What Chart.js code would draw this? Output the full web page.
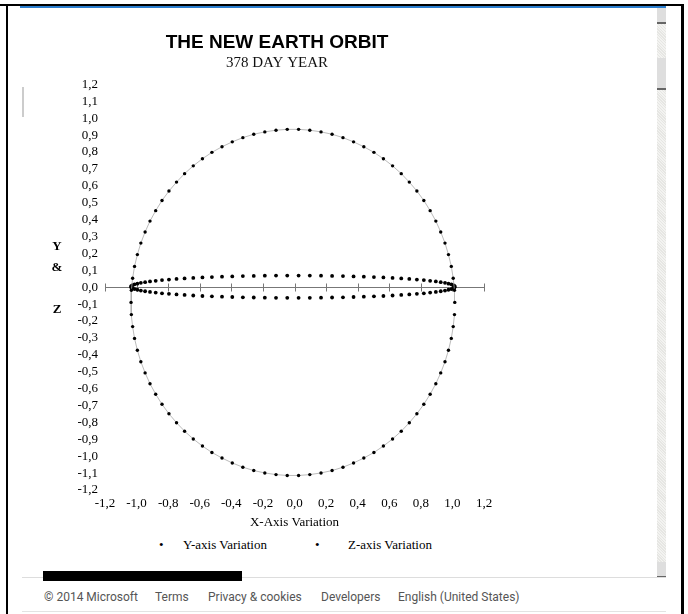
<!DOCTYPE html>
<html lang="en">
<head>
<meta charset="UTF-8">
<title>The New Earth Orbit</title>
<script src="https://cdn.jsdelivr.net/npm/chart.js"></script>
<style>
    body {
        margin: 0;
        background: #fff;
        width: 688px;
        height: 614px;
        overflow: hidden;
        position: relative;
        font-family: "Liberation Serif", "Times New Roman", serif;
    }
    .abs { position: absolute; }
    #chartBox { left: 22px; top: 8px; }
    .key { top: 537px; font-size: 13px; color: #000; white-space: nowrap; }
    .dot { font-size: 13px; }
    .foot {
        top: 590px;
        font-family: Roboto, "Liberation Sans", sans-serif;
        font-size: 12px;
        color: #555;
        white-space: nowrap;
    }
    .scroll {
        left: 657px; width: 9px;
        background: repeating-linear-gradient(45deg, #e6e6e3 0 1px, #f3f3f1 1px 2px);
    }
    .sbtn { left: 657px; width: 9px; background: #dedede; border-bottom: 2px solid #666; }
</style>
</head>
<body>
    <!-- window frame -->
    <div class="abs" style="left:0;top:4px;width:684px;height:2px;background:#000"></div>
    <div class="abs" style="left:6px;top:4px;width:2px;height:610px;background:#000"></div>
    <div class="abs" style="left:681px;top:4px;width:3px;height:610px;background:#000"></div>
    <div class="abs" style="left:20px;top:6px;width:646px;height:2px;background:#2b7fd0"></div>
    <div class="abs" style="left:22px;top:87px;width:2px;height:30px;background:#ccc"></div>
    <div class="abs scroll" style="top:8px;height:570px"></div>
    <div class="abs sbtn" style="top:8px;height:14px"></div>
    <div class="abs sbtn" style="top:58px;height:30px"></div>
    <div class="abs sbtn" style="top:562px;height:14px"></div>

    <div id="chartBox" class="abs">
        <canvas id="orbitChart" width="510" height="522"></canvas>
    </div>

    <div class="abs key dot" style="left:159px">&#8226;</div>
    <div class="abs key" style="left:183px">Y-axis Variation</div>
    <div class="abs key dot" style="left:315px">&#8226;</div>
    <div class="abs key" style="left:348px">Z-axis Variation</div>

    <div class="abs" style="left:22px;top:577px;width:644px;height:1px;background:#ddd"></div>
    <div class="abs" style="left:43px;top:571px;width:199px;height:10px;background:#000"></div>
    <div class="abs foot" style="left:44px">&copy; 2014 Microsoft</div>
    <div class="abs foot" style="left:155px">Terms</div>
    <div class="abs foot" style="left:208px">Privacy &amp; cookies</div>
    <div class="abs foot" style="left:321px">Developers</div>
    <div class="abs foot" style="left:398px">English (United States)</div>
    <div class="abs" style="left:22px;top:611px;width:644px;height:1px;background:#e3e3e3"></div>

<script>
    // X position of the earth for each plotted day (shared by both series)
    const xVals = [
        1.015, 1.013, 1.005, 0.993, 0.975, 0.953, 0.926, 0.895, 0.859, 0.819, 0.775, 0.727, 0.676, 0.621, 0.563, 0.503, 0.439, 0.374, 0.307, 0.238, 0.168, 0.097, 0.026,
        -0.046, -0.117, -0.188, -0.258, -0.327, -0.394, -0.459, -0.523, -0.583, -0.641, -0.696, -0.747, -0.795, -0.839, -0.879, -0.915, -0.946, -0.973, -0.995, -1.013, -1.025, -1.033,
        -1.035, -1.033, -1.025, -1.013, -0.995, -0.973, -0.946, -0.915, -0.879, -0.839, -0.795, -0.747, -0.696, -0.641, -0.583, -0.523, -0.459, -0.394, -0.327, -0.258, -0.188, -0.117, -0.046,
        0.026, 0.097, 0.168, 0.238, 0.307, 0.374, 0.439, 0.503, 0.563, 0.621, 0.676, 0.727, 0.775, 0.819, 0.859, 0.895, 0.926, 0.953, 0.975, 0.993, 1.005, 1.013
    ];
    // Y-axis variation
    const yVals = [
        -0.090, -0.018, 0.053, 0.123, 0.193, 0.261, 0.327, 0.391, 0.453, 0.513, 0.569, 0.622, 0.672, 0.718, 0.760, 0.798, 0.831, 0.860, 0.885, 0.905, 0.919, 0.929, 0.934,
        0.934, 0.929, 0.919, 0.905, 0.885, 0.860, 0.831, 0.798, 0.760, 0.718, 0.672, 0.622, 0.569, 0.513, 0.453, 0.391, 0.327, 0.261, 0.193, 0.123, 0.053, -0.018,
        -0.090, -0.162, -0.233, -0.303, -0.373, -0.441, -0.507, -0.571, -0.633, -0.693, -0.749, -0.802, -0.852, -0.898, -0.940, -0.978, -1.011, -1.040, -1.065, -1.085, -1.099, -1.109, -1.114,
        -1.114, -1.109, -1.099, -1.085, -1.065, -1.040, -1.011, -0.978, -0.940, -0.898, -0.852, -0.802, -0.749, -0.693, -0.633, -0.571, -0.507, -0.441, -0.373, -0.303, -0.233, -0.162
    ];
    // Z-axis variation
    const zVals = [
        0.003, 0.008, 0.012, 0.017, 0.021, 0.026, 0.030, 0.034, 0.038, 0.042, 0.045, 0.049, 0.052, 0.055, 0.058, 0.060, 0.062, 0.064, 0.066, 0.067, 0.068, 0.069, 0.069,
        0.069, 0.069, 0.068, 0.067, 0.066, 0.064, 0.062, 0.060, 0.058, 0.055, 0.052, 0.049, 0.045, 0.042, 0.038, 0.034, 0.030, 0.026, 0.021, 0.017, 0.012, 0.008,
        0.003, -0.002, -0.006, -0.011, -0.015, -0.020, -0.024, -0.028, -0.032, -0.036, -0.039, -0.043, -0.046, -0.049, -0.052, -0.054, -0.056, -0.058, -0.060, -0.061, -0.062, -0.063, -0.063,
        -0.063, -0.063, -0.062, -0.061, -0.060, -0.058, -0.056, -0.054, -0.052, -0.049, -0.046, -0.043, -0.039, -0.036, -0.032, -0.028, -0.024, -0.020, -0.015, -0.011, -0.006, -0.002
    ];
    const xTicks = [-1.2, -1.0, -0.8, -0.6, -0.4, -0.2, 0.0, 0.2, 0.4, 0.6, 0.8, 1.0, 1.2];
    const yTicks = [1.2, 1.1, 1.0, 0.9, 0.8, 0.7, 0.6, 0.5, 0.4, 0.3, 0.2, 0.1, 0.0,
        -0.1, -0.2, -0.3, -0.4, -0.5, -0.6, -0.7, -0.8, -0.9, -1.0, -1.1, -1.2];

    const SERIF = '"Liberation Serif", "Times New Roman", serif';
    const commaFmt = v => Number(v).toFixed(1).replace('.', ',');

    // horizontal axis through 0 with tick marks, drawn under the points
    const zeroAxis = {
        id: 'zeroAxis',
        beforeDatasetsDraw(chart) {
            const {ctx, scales: {x, y}} = chart;
            const y0 = Math.round(y.getPixelForValue(0)) + 0.5;
            ctx.save();
            ctx.strokeStyle = '#777';
            ctx.lineWidth = 1;
            ctx.beginPath();
            ctx.moveTo(x.getPixelForValue(xTicks[0]), y0);
            ctx.lineTo(x.getPixelForValue(xTicks[xTicks.length - 1]), y0);
            xTicks.forEach(t => {
                const px = Math.round(x.getPixelForValue(t)) + 0.5;
                ctx.moveTo(px, y0 - 4);
                ctx.lineTo(px, y0 + 4);
            });
            ctx.stroke();
            ctx.restore();
        }
    };

    // stacked "Y & Z" axis caption
    const sideCaption = {
        id: 'sideCaption',
        afterDraw(chart) {
            const {ctx, scales: {y}} = chart;
            const y0 = y.getPixelForValue(0);
            ctx.save();
            ctx.font = 'bold 13px ' + SERIF;
            ctx.fillStyle = '#000';
            ctx.textAlign = 'center';
            ctx.textBaseline = 'middle';
            ctx.fillText('Y', 35, y0 - 41);
            ctx.fillText('&', 35, y0 - 20);
            ctx.fillText('Z', 35, y0 + 22);
            ctx.restore();
        }
    };

    new Chart(document.getElementById('orbitChart'), {
        type: 'scatter',
        data: {
            datasets: [
                {
                    label: 'Y-axis Variation',
                    data: xVals.map((x, i) => ({x: x, y: yVals[i]})),
                    showLine: true,
                    borderColor: '#aaa',
                    borderWidth: 0.8,
                    pointRadius: 1.7,
                    pointBorderWidth: 0,
                    pointBackgroundColor: '#000'
                },
                {
                    label: 'Z-axis Variation',
                    data: xVals.map((x, i) => ({x: x, y: zVals[i]})),
                    showLine: false,
                    pointRadius: 1.9,
                    pointBorderWidth: 0,
                    pointBackgroundColor: '#000'
                }
            ]
        },
        options: {
            responsive: false,
            animation: false,
            events: [],
            plugins: {
                legend: { display: false },
                tooltip: { enabled: false },
                title: {
                    display: true,
                    text: 'THE NEW EARTH ORBIT',
                    color: '#000',
                    font: { family: '"Liberation Sans", Arial, sans-serif', size: 19, weight: 'bold' },
                    padding: { top: 23, bottom: 0 }
                },
                subtitle: {
                    display: true,
                    text: '378 DAY YEAR',
                    color: '#111',
                    font: { family: SERIF, size: 15 },
                    padding: { top: 0, bottom: 12.6 }
                }
            },
            scales: {
                x: {
                    type: 'linear',
                    min: -1.2,
                    max: 1.2,
                    grid: { display: false, drawTicks: false },
                    border: { display: false },
                    afterBuildTicks: s => { s.ticks = xTicks.map(v => ({value: v})); },
                    afterFit: s => { s.height = 40; s.paddingRight = 48; },
                    ticks: {
                        color: '#000',
                        padding: 6,
                        maxRotation: 0,
                        font: { family: SERIF, size: 13 },
                        callback: commaFmt
                    },
                    title: {
                        display: true,
                        text: 'X-Axis Variation',
                        color: '#000',
                        font: { family: SERIF, size: 13 },
                        padding: { top: 2, bottom: 0 }
                    }
                },
                y: {
                    type: 'linear',
                    min: -1.2,
                    max: 1.2,
                    grid: { display: false, drawTicks: false },
                    border: { display: false },
                    afterBuildTicks: s => { s.ticks = yTicks.map(v => ({value: v})); },
                    afterFit: s => { s.width = 83; },
                    ticks: {
                        color: '#000',
                        padding: 7,
                        autoSkip: false,
                        font: { family: SERIF, size: 13 },
                        callback: commaFmt
                    }
                }
            }
        },
        plugins: [zeroAxis, sideCaption]
    });
</script>
</body>
</html>
